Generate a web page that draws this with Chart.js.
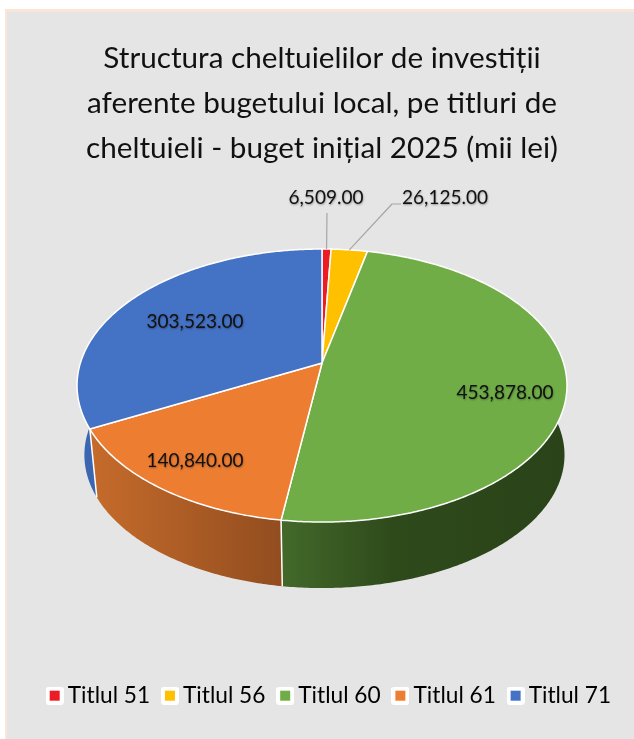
<!DOCTYPE html>
<html><head><meta charset="utf-8">
<style>html,body{margin:0;padding:0;background:#fff;overflow:hidden;width:634px;height:739px}
#w{position:absolute;left:0;top:0;width:644px;height:739px}</style>
</head><body><div id="w"><canvas id="c" width="644" height="739"></canvas></div>
<script src="https://cdn.jsdelivr.net/npm/chart.js@4"></script>
<script>
const categories=["Titlul 51","Titlul 56","Titlul 60","Titlul 61","Titlul 71"];
const values=[6509,26125,453878,140840,303523];
const valueLabels=["6,509.00","26,125.00","453,878.00","140,840.00","303,523.00"];
const colors=["#ED1C24","#FFC000","#70AD47","#ED7D31","#4472C4"];
const titleLines=["Structura cheltuielilor de investiții","aferente bugetului local, pe titluri de","cheltuieli - buget inițial 2025 (mii lei)"];

const FONT="Lato, Carlito, sans-serif";
// perspective view of the pie disc
const view={cx:322,cy:363,R:241.6,A:132.8,k:0.165,drop:70,shrinkY:0.975,shrinkRight:0.99,shrinkLeft:0.97};
function project(a,z){ // a: chart.js arc angle, z: 0 top face, 1 bottom face
  const x=Math.cos(a),y=Math.sin(a),w=1-view.k*y;
  const sx=z?(x>0?view.shrinkRight:view.shrinkLeft):1,sy=z?view.shrinkY:1;
  return [view.cx+sx*view.R*x/w, view.cy+(z?view.drop:0)+sy*view.A*y/w];
}
const sideStops=[null,null,
 [[0,"#43692A"],[0.4,"#2E4A1B"],[1,"#2A4319"]],
 [[0,"#C56B2B"],[1,"#924D1F"]],
 [[0,"#3B66B0"],[1,"#3B66B0"]]];
const sideRange=[[0,1],[0,1],[282,560],[92,282],[78,96]];
const labelAt=[[326,198],[445,198],[505,393],[195,461],[195,322]];
const leaders=[[[327,213]],[[392,204],[401,204]]];

function arcPath(ctx,a0,a1,z,move){
  const n=Math.max(2,Math.ceil(Math.abs(a1-a0)/0.01));
  for(let i=0;i<=n;i++){const p=project(a0+(a1-a0)*i/n,z);
    if(i===0&&move)ctx.moveTo(p[0],p[1]);else ctx.lineTo(p[0],p[1]);}
}
const pie3d={id:'pie3d',
 beforeDraw(chart){
  const c=chart.ctx;c.save();
  c.fillStyle="#FBE5D6";c.fillRect(5,9,639,730);
  c.fillStyle="#E5E5E5";c.fillRect(7,12,637,727);
  c.restore();
 },
 beforeDatasetsDraw(chart){
  const c=chart.ctx,arcs=chart.getDatasetMeta(0).data;
  c.save();c.lineJoin="round";
  // side walls (front half, wrapped slightly past the horizontal)
  const lo=-0.12, hi=Math.PI+0.33;
  arcs.forEach((arc,i)=>{
   const s=Math.max(arc.startAngle,lo),e=Math.min(arc.endAngle,hi);
   if(e<=s)return;
   const g=c.createLinearGradient(sideRange[i][0],0,sideRange[i][1],0);
   sideStops[i].forEach(t=>g.addColorStop(t[0],t[1]));
   c.beginPath();arcPath(c,s,e,0,true);arcPath(c,e,s,1,false);c.closePath();
   c.fillStyle=g;c.fill();
  });
  // white seams on the wall
  c.strokeStyle="#FFFFFF";c.lineWidth=1.5;
  arcs.forEach((arc,i)=>{
   const e=arc.endAngle;
   if(e>0&&e<hi){const p=project(e,0),q=project(e,1);
    c.beginPath();c.moveTo(p[0],p[1]);c.lineTo(q[0],q[1]);c.stroke();}
  });
  // top face
  arcs.forEach(arc=>{
   c.beginPath();c.moveTo(view.cx,view.cy);
   arcPath(c,arc.startAngle,arc.endAngle,0,false);c.closePath();
   c.fillStyle=arc.options.backgroundColor;c.fill();
   c.strokeStyle=arc.options.borderColor;c.lineWidth=arc.options.borderWidth;c.stroke();
  });
  // leader lines
  c.strokeStyle="#A6A6A6";c.lineWidth=1.2;
  leaders.forEach((pts,i)=>{
   const arc=arcs[i],m=(arc.startAngle+arc.endAngle)/2,p=project(m,0);
   c.beginPath();c.moveTo(p[0],p[1]);pts.forEach(q=>c.lineTo(q[0],q[1]));c.stroke();
  });
  // data labels
  c.font="19px "+FONT;c.textAlign="center";c.textBaseline="middle";
  c.fillStyle="#111111";c.shadowColor="rgba(0,0,0,.35)";c.shadowBlur=2;c.shadowOffsetX=0.5;c.shadowOffsetY=0.5;
  valueLabels.forEach((t,i)=>c.fillText(t,labelAt[i][0],labelAt[i][1]));
  c.restore();
  return false;
 },
 afterLayout(chart){chart.legend.left+=10;chart.legend.right+=10;}
};
function marker(col){
 const m=document.createElement('canvas');m.width=18;m.height=18;
 const c=m.getContext('2d');c.fillStyle="#fff";c.beginPath();c.roundRect(0,0,18,18,3);c.fill();
 c.fillStyle=col;c.fillRect(4,4,10,10);return m;
}
new Chart(document.getElementById('c'),{
 type:'pie',
 data:{labels:categories,datasets:[{data:values,backgroundColor:colors,borderColor:"#FFFFFF",borderWidth:1.5}]},
 options:{responsive:false,animation:false,rotation:0,
  layout:{padding:{top:0,bottom:22,left:0,right:0}},
  plugins:{
   title:{display:true,text:titleLines,color:"#111111",align:"center",
     font:{family:FONT,size:29.7,weight:"normal",lineHeight:"45px"},padding:{top:36,bottom:10}},
   legend:{position:"bottom",
     labels:{usePointStyle:true,pointStyleWidth:3.5,padding:18,color:"#111111",font:{family:FONT,size:22.7},
      generateLabels:ch=>categories.map((t,i)=>({text:t,fillStyle:colors[i],strokeStyle:colors[i],lineWidth:0,pointStyle:marker(colors[i]),index:i,datasetIndex:0,hidden:false}))}},
   tooltip:{enabled:false}}},
 plugins:[pie3d]
});
</script></body></html>
